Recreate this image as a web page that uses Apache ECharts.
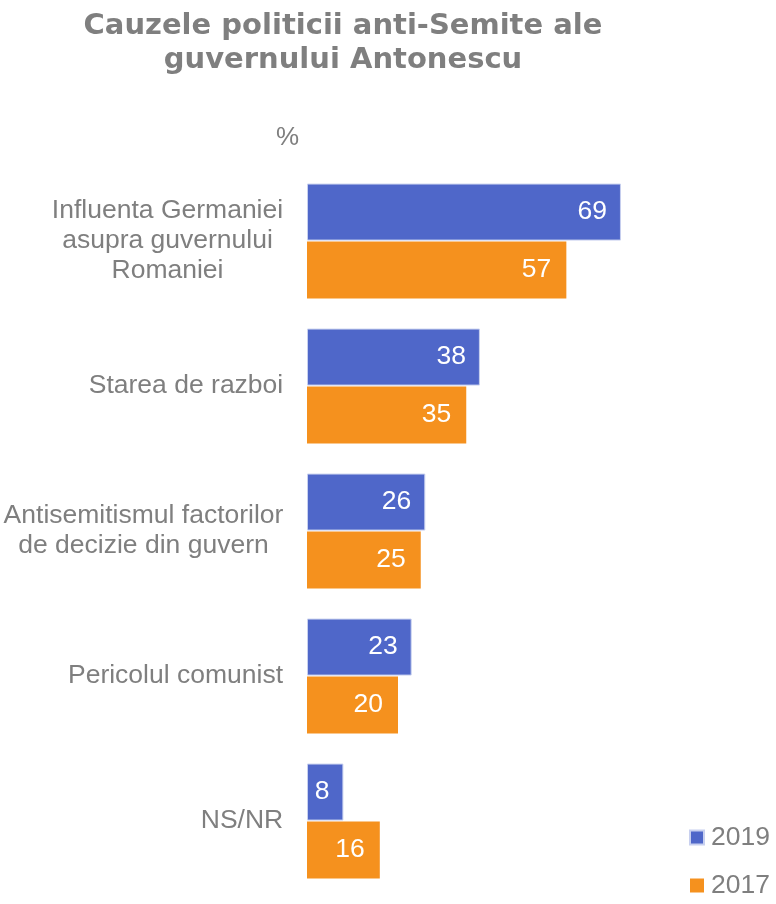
<!DOCTYPE html>
<html>
<head>
<meta charset="utf-8">
<script src="https://cdn.jsdelivr.net/npm/echarts@6/dist/echarts.min.js"></script>
<style>
html,body{margin:0;padding:0;background:#fff;overflow:hidden;}
#main{width:776px;height:904px;}
</style>
</head>
<body>
<div id="main"></div>
<script>
const titleText = 'Cauzele politicii anti-Semite ale\nguvernului Antonescu';
const unitLabel = '%';
const categories = [
  'Influenta Germaniei\nasupra guvernului\nRomaniei',
  'Starea de razboi',
  'Antisemitismul factorilor\nde decizie din guvern',
  'Pericolul comunist',
  'NS/NR'
];
const seriesNames = ['2019', '2017'];
const values2019 = [69, 38, 26, 23, 8];
const values2017 = [57, 35, 25, 20, 16];

const GRAY = '#7f7f7f';
const BLUE = '#4f67c9';
const ORANGE = '#f5911e';
const LABEL_FONT = '"Liberation Sans", Arial, sans-serif';

// measure label widths so multi-line labels can be centered within their block
const cv = document.createElement('canvas').getContext('2d');
cv.font = '26.5px "Liberation Sans"';
const rich = {};
categories.forEach((c, i) => {
  const w = Math.max(...c.split('\n').map(l => cv.measureText(l).width));
  rich['c' + i] = {
    width: Math.ceil(w) + 1,
    align: 'center',
    fontSize: 26.5,
    lineHeight: 30,
    color: GRAY,
    fontFamily: LABEL_FONT
  };
});

const chart = echarts.init(document.getElementById('main'), null, {renderer: 'canvas'});
chart.setOption({
  animation: false,
  backgroundColor: '#ffffff',
  title: {
    text: titleText,
    left: 338,
    top: 4,
    textAlign: 'center',
    textStyle: {
      fontFamily: '"DejaVu Sans", Verdana, sans-serif',
      fontWeight: 'bold',
      fontSize: 29,
      lineHeight: 34,
      color: GRAY
    }
  },
  graphic: [{
    type: 'text',
    left: 276,
    top: 125,
    style: {text: unitLabel, fontSize: 26, fill: GRAY, fontFamily: LABEL_FONT}
  }],
  legend: {
    orient: 'vertical',
    left: 689,
    top: 824,
    padding: 0,
    itemWidth: 14,
    itemHeight: 14,
    itemGap: 21,
    icon: 'rect',
    data: seriesNames,
    textStyle: {fontSize: 26.5, color: GRAY, fontFamily: LABEL_FONT, padding: [0, 0, 0, 2]}
  },
  grid: {left: 304, top: 168.5, width: 458, height: 725, containLabel: false},
  xAxis: {
    type: 'value', min: 0, max: 100, show: false
  },
  yAxis: {
    type: 'category',
    inverse: true,
    data: categories,
    axisLine: {show: false},
    axisTick: {show: false},
    splitLine: {show: false},
    axisLabel: {
      margin: 23,
      align: 'right',
      formatter: (v, i) => v.split('\n').map(l => '{c' + i + '|' + l + '}').join('\n'),
      rich: rich
    }
  },
  series: [
    {
      name: seriesNames[0],
      type: 'bar',
      data: values2019,
      barWidth: 57,
      barGap: '1.5%',
      itemStyle: {color: BLUE, borderColor: '#c8d0ef', borderWidth: 1},
      label: {
        show: true, position: 'insideRight', distance: 14,
        color: '#ffffff', fontSize: 26.5, fontFamily: LABEL_FONT
      }
    },
    {
      name: seriesNames[1],
      type: 'bar',
      data: values2017,
      barWidth: 57,
      itemStyle: {color: ORANGE},
      label: {
        show: true, position: 'insideRight', distance: 15,
        color: '#ffffff', fontSize: 26.5, fontFamily: LABEL_FONT
      }
    }
  ]
});
</script>
</body>
</html>
